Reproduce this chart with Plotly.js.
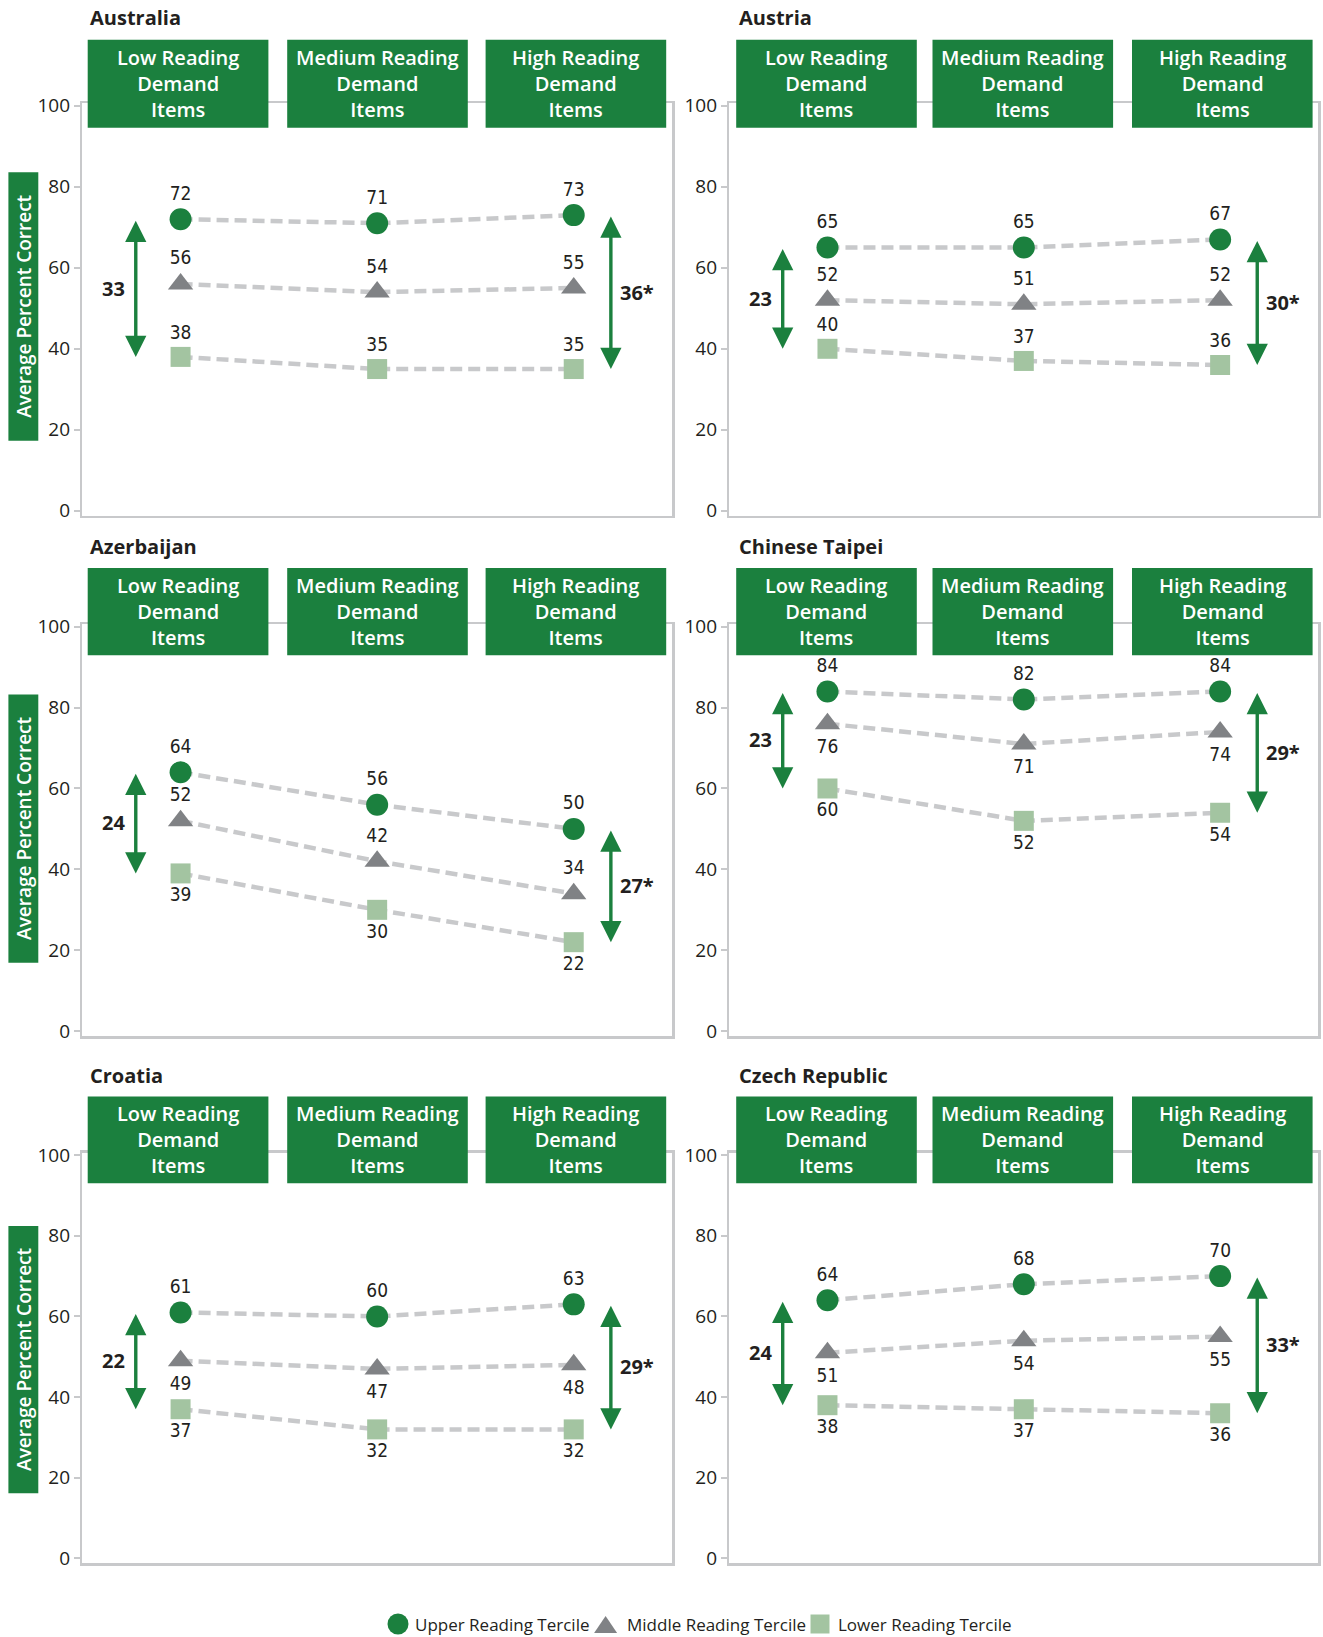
<!DOCTYPE html>
<html><head><meta charset="utf-8">
<script src="https://cdn.plot.ly/plotly-3.0.1.min.js"></script>
<style>html,body{margin:0;padding:0;background:#fff}#chart{width:1323px;height:1637px}</style>
</head><body><div id="chart"></div>
<script>
// ---------------- DATA ----------------
const countries = ["Australia", "Austria", "Azerbaijan", "Chinese Taipei", "Croatia", "Czech Republic"];
const categories = ["Low Reading Demand Items", "Medium Reading Demand Items", "High Reading Demand Items"];
const seriesNames = ["Upper Reading Tercile", "Middle Reading Tercile", "Lower Reading Tercile"];
const upperTercile  = [[72, 71, 73], [65, 65, 67], [64, 56, 50], [84, 82, 84], [61, 60, 63], [64, 68, 70]];
const middleTercile = [[56, 54, 55], [52, 51, 52], [52, 42, 34], [76, 71, 74], [49, 47, 48], [51, 54, 55]];
const lowerTercile  = [[38, 35, 35], [40, 37, 36], [39, 30, 22], [60, 52, 54], [37, 32, 32], [38, 37, 36]];
const gapLowDemand  = ["33", "23", "24", "23", "22", "24"];
const gapHighDemand = ["36*", "30*", "27*", "29*", "29*", "33*"];
const yTicks = [0, 20, 40, 60, 80, 100];
const yAxisTitle = "Average Percent Correct";

// ---------------- STYLE / GEOMETRY ----------------
const W = 1323, H = 1637;
const GREEN = "#1b803e", GREY = "#808285", LIGHT = "#a3c4a1", LINE = "#c8c9cb", TXT = "#231f20";
const seriesStyle = [
  {color: GREEN, symbol: "circle", size: 22},
  {color: GREY, symbol: "triangle-up", size: 22},
  {color: LIGHT, symbol: "square", size: 20}
];
// label placement per country, per series
const labelPos = [
  ["top", "top", "top"],
  ["top", "top", "top"],
  ["top", "top", "bottom"],
  ["top", "bottom", "bottom"],
  ["top", "bottom", "bottom"],
  ["top", "bottom", "bottom"]
];
const colX = [[82.3, 672], [729.3, 1318.3]];
const rowY = [[103.3, 515.7], [624.3, 1036], [1152.7, 1563.3]];
const headerRowY = [[39.7, 127.7], [568, 655.3], [1096.4, 1183.3]];
const headerColX = [
  [[87.7, 268.4], [287.2, 467.8], [485.6, 666.2]],
  [[736.2, 916.8], [932.5, 1113.1], [1132, 1312.6]]
];
const titleY = [17.8, 547, 1075.5];
const titleX = [87.7, 737];
const yTitleX = [8.4, 38.3];
const yTitleY = [[172.3, 440.7], [694.4, 962.7], [1225.9, 1493.2]];
const ARROW_X_LEFT = -0.228, ARROW_X_RIGHT = 2.189, GAP_X_LEFT = -0.34, GAP_X_RIGHT = 2.32;
// manual legend geometry (pixels)
const legendY = 1624;
const legendSymX = [398, 605.6, 820];
const legendTextX = [413, 625, 836];

const px = v => v / W;
const py = v => 1 - v / H;

const traces = [];
const layout = {
  width: W, height: H,
  margin: {l: 0, r: 0, t: 0, b: 0, autoexpand: false},
  paper_bgcolor: "#fff", plot_bgcolor: "#fff",
  showlegend: false,
  shapes: [], annotations: []
};

const xIdx = categories.map((c, i) => i);
const allSeries = [upperTercile, middleTercile, lowerTercile];

countries.forEach((country, i) => {
  const row = Math.floor(i / 2), col = i % 2;
  const n = i === 0 ? "" : String(i + 1);
  const xa = "x" + n, ya = "y" + n;
  layout["xaxis" + n] = {
    domain: [px(colX[col][0]), px(colX[col][1])],
    anchor: ya, range: [-0.5, 2.5], showticklabels: false, ticks: "",
    showgrid: false, zeroline: false, showline: true, mirror: true,
    linecolor: LINE, linewidth: 2.5, fixedrange: true
  };
  layout["yaxis" + n] = {
    domain: [py(rowY[row][1]), py(rowY[row][0])],
    anchor: xa, range: [-1.2, 100.6], tickvals: yTicks, ticktext: yTicks.map(String),
    ticks: "outside", ticklen: 6, tickwidth: 2, tickcolor: LINE,
    tickfont: {family: "Open Sans", size: 19, color: TXT},
    showgrid: false, zeroline: false, showline: true, mirror: true,
    linecolor: LINE, linewidth: 2.5, fixedrange: true
  };

  allSeries.forEach((s) => {
    traces.push({
      x: xIdx, y: s[i], xaxis: xa, yaxis: ya, mode: "lines", showlegend: false,
      hoverinfo: "skip", line: {color: LINE, width: 4.5, dash: "12px,6px"}
    });
  });
  allSeries.forEach((s, k) => {
    const vals = s[i];
    const st = seriesStyle[k];
    traces.push({
      x: xIdx, y: vals, xaxis: xa, yaxis: ya, mode: "markers+text", showlegend: false,
      name: seriesNames[k],
      marker: {color: st.color, symbol: st.symbol, size: st.size, line: {width: 0}},
      text: vals.map(String), textposition: labelPos[i][k] + " center",
      textfont: {family: "Liberation Sans Narrow, DejaVu Sans Condensed, Roboto", size: 19, color: TXT},
      cliponaxis: false
    });
  });

  // arrows (range of upper to lower tercile)
  [[0, ARROW_X_LEFT, GAP_X_LEFT, gapLowDemand[i]], [2, ARROW_X_RIGHT, GAP_X_RIGHT, gapHighDemand[i]]].forEach(([ci, ax, gx, label]) => {
    const top = upperTercile[i][ci], bot = lowerTercile[i][ci];
    layout.annotations.push({
      xref: xa, yref: ya, axref: xa, ayref: ya,
      x: ax, y: bot, ax: ax, ay: top, text: "", showarrow: true,
      arrowside: "end+start", arrowhead: 2, startarrowhead: 2, arrowsize: 1.25, startarrowsize: 1.25,
      arrowwidth: 3.4, arrowcolor: GREEN, standoff: 0, startstandoff: 0
    });
    layout.annotations.push({
      xref: xa, yref: ya, x: gx, y: (top + bot) / 2, text: "<b>" + label + "</b>",
      showarrow: false, font: {family: "Open Sans", size: 20, color: TXT}
    });
  });

  // country title
  layout.annotations.push({
    xref: "paper", yref: "paper", x: px(titleX[col]), y: py(titleY[row]),
    xanchor: "left", yanchor: "middle", showarrow: false,
    text: "<b>" + country + "</b>", font: {family: "Open Sans", size: 20, color: TXT}
  });

  // header boxes
  categories.forEach((cat, j) => {
    const [x0, x1] = headerColX[col][j];
    const [y0, y1] = headerRowY[row];
    layout.shapes.push({
      type: "rect", xref: "paper", yref: "paper", layer: "above",
      x0: px(x0), x1: px(x1), y0: py(y1), y1: py(y0),
      fillcolor: GREEN, line: {width: 0}
    });
    layout.annotations.push({
      xref: "paper", yref: "paper", x: px((x0 + x1) / 2), y: py((y0 + y1) / 2),
      xanchor: "center", yanchor: "middle", showarrow: false, align: "center",
      text: cat.replace(" Demand ", "<br>Demand<br>"),
      font: {family: "Open Sans", size: 20, color: "#ffffff", weight: 600}
    });
  });

  // y-axis title box (left column only)
  if (col === 0) {
    const [y0, y1] = yTitleY[row];
    layout.shapes.push({
      type: "rect", xref: "paper", yref: "paper", layer: "above",
      x0: px(yTitleX[0]), x1: px(yTitleX[1]), y0: py(y1), y1: py(y0),
      fillcolor: GREEN, line: {width: 0}
    });
    layout.annotations.push({
      xref: "paper", yref: "paper", x: px((yTitleX[0] + yTitleX[1]) / 2), y: py((y0 + y1) / 2),
      xanchor: "center", yanchor: "middle", showarrow: false, textangle: -90,
      text: yAxisTitle, font: {family: "Open Sans", size: 19, color: "#ffffff", weight: 600}
    });
  }
});

// manual legend (symbols as shapes, names as annotations)
const r = 10.5;
layout.shapes.push({
  type: "circle", xref: "paper", yref: "paper",
  x0: px(legendSymX[0] - r), x1: px(legendSymX[0] + r), y0: py(legendY + r), y1: py(legendY - r),
  fillcolor: seriesStyle[0].color, line: {width: 0}
});
layout.shapes.push({
  type: "path", xref: "paper", yref: "paper",
  path: `M${px(legendSymX[1])},${py(legendY - 8)} L${px(legendSymX[1] + 11.5)},${py(legendY + 9)} L${px(legendSymX[1] - 11.5)},${py(legendY + 9)} Z`,
  fillcolor: seriesStyle[1].color, line: {width: 0}
});
layout.shapes.push({
  type: "rect", xref: "paper", yref: "paper",
  x0: px(legendSymX[2] - 9.5), x1: px(legendSymX[2] + 9.5), y0: py(legendY + 9.5), y1: py(legendY - 9.5),
  fillcolor: seriesStyle[2].color, line: {width: 0}
});
seriesNames.forEach((name, k) => {
  layout.annotations.push({
    xref: "paper", yref: "paper", x: px(legendTextX[k]), y: py(legendY),
    xanchor: "left", yanchor: "middle", showarrow: false, text: name,
    font: {family: "Open Sans", size: 17, color: TXT}
  });
});

Plotly.newPlot("chart", traces, layout, {displayModeBar: false, staticPlot: true});
</script>
</body></html>
